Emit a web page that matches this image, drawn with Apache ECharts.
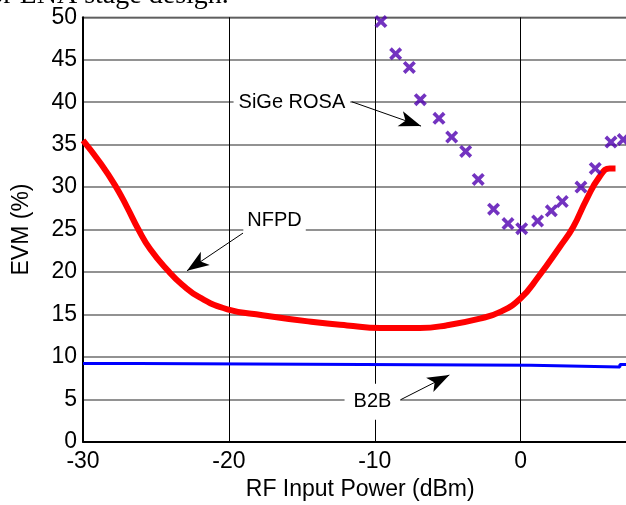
<!DOCTYPE html>
<html>
<head>
<meta charset="utf-8">
<script src="https://cdn.jsdelivr.net/npm/echarts@6/dist/echarts.min.js"></script>
<style>
html,body{margin:0;padding:0;background:#fff;}
#c{width:626px;height:505px;}
</style>
</head>
<body>
<div id="c"></div>
<script>
// X axis tick settings
var xMin = -30, xMax = 8, xInterval = 10;
var yMin = 0, yMax = 50, yInterval = 5;

// NFPD (red curve)
var nfpdX = [-30, -28.8, -27.8, -27.0, -26.2, -25.4, -24.2, -23.2, -22.0, -20.1, -17.7, -14.2, -11.9, -9.6, -6.9, -5.1, -2.8, -1.4, 0, 1.2, 2.7, 3.6, 4.5, 5.4, 6.1, 6.5];
var nfpdY = [35.5, 32.8, 30.2, 27.7, 25.0, 22.7, 20.2, 18.5, 17.0, 15.6, 14.9, 14.1, 13.7, 13.4, 13.4, 13.7, 14.5, 15.3, 16.9, 19.4, 23.0, 25.3, 28.5, 31.2, 32.2, 32.2];

// B2B (blue line)
var b2bX = [-30, -26.2, -26.2, 0.7, 0.7, 6.8, 6.8, 8];
var b2bY = [9.2, 9.2, 9.0, 9.0, 8.8, 8.8, 9.1, 9.1];

// SiGe ROSA (purple crosses)
var roseX = [-9.58, -8.57, -7.63, -6.88, -5.60, -4.73, -3.77, -2.91, -1.86, -0.87, 0.07, 1.16, 2.10, 2.85, 4.13, 5.11, 6.19, 7.03];
var roseY = [49.5, 45.7, 44.1, 40.3, 38.1, 35.9, 34.2, 30.9, 27.4, 25.7, 25.1, 26.0, 27.2, 28.3, 30.0, 32.2, 35.3, 35.6];

// Annotations: label text, label position, arrow start, arrow tip (data coords)
var annText = ['SiGe ROSA', 'NFPD', 'B2B'];
var annPos = [[-15.68, 40.0], [-16.87, 26.1], [-10.16, 4.71]];
var annFrom = [[-11.58, 40.05], [-19.03, 24.58], [-8.27, 4.91]];
var annTo = [[-6.83, 37.18], [-22.87, 20.14], [-4.89, 7.86]];
var annPad = [[3, 5], [3, 4], [8, 9]];

function zip(xs, ys) { return xs.map(function (x, i) { return [x, ys[i]]; }); }

var crossPath = 'path://M2,0 L5,3 L8,0 L10,2 L7,5 L10,8 L8,10 L5,7 L2,10 L0,8 L3,5 L0,2 Z';
var FONT = '"Liberation Sans", Arial, sans-serif';

var chart = echarts.init(document.getElementById('c'), null, {renderer: 'canvas'});
chart.setOption({
  animation: false,
  backgroundColor: '#fff',
  graphic: [{
    type: 'text', left: -20, top: -18,
    style: {text: 'for LNA stage design.', font: '28px "Liberation Serif", "Times New Roman", serif', fill: '#000'}
  }],
  grid: {left: 83, top: 17.3, height: 424.4, width: 554.4, show: true, borderColor: '#000', borderWidth: 1,
         backgroundColor: '#fff', containLabel: false, outerBoundsMode: 'none'},
  xAxis: {
    type: 'value', min: xMin, max: xMax, interval: xInterval,
    name: 'RF Input Power (dBm)', nameLocation: 'middle', nameGap: 36,
    nameTextStyle: {fontFamily: FONT, fontSize: 23, color: '#000'},
    axisLine: {show: true, onZero: false, lineStyle: {color: '#000', width: 2}},
    axisTick: {show: false},
    axisLabel: {fontFamily: FONT, fontSize: 23, color: '#000', margin: 8},
    splitLine: {show: true, lineStyle: {color: '#000', width: 1}}
  },
  yAxis: {
    type: 'value', min: yMin, max: yMax, interval: yInterval,
    name: 'EVM (%)', nameLocation: 'middle', nameGap: 50,
    nameTextStyle: {fontFamily: FONT, fontSize: 23, color: '#000'},
    axisLine: {show: true, onZero: false, lineStyle: {color: '#000', width: 2}},
    axisTick: {show: false},
    axisLabel: {fontFamily: FONT, fontSize: 23, color: '#000', margin: 6},
    splitLine: {show: true, lineStyle: {color: '#6e6e6e', width: 1.5}}
  },
  series: [
    {
      name: 'B2B', type: 'line', data: zip(b2bX, b2bY), showSymbol: false, symbol: 'none',
      lineStyle: {color: '#0000ff', width: 3}, z: 3,
      markLine: {
        silent: true, symbol: ['none', 'arrow'], symbolSize: [12, 22],
        label: {show: false},
        lineStyle: {color: '#000', width: 1, type: 'solid'},
        data: annFrom.map(function (f, i) { return [{coord: f}, {coord: annTo[i]}]; })
      },
      markPoint: {
        silent: true, symbol: 'rect', symbolSize: 1,
        itemStyle: {color: 'rgba(0,0,0,0)'},
        data: annPos.map(function (p, i) {
          return {coord: p, label: {
            show: true, position: 'inside', formatter: annText[i],
            fontFamily: FONT, fontSize: 20, color: '#000',
            backgroundColor: '#fff', padding: annPad[i]
          }};
        })
      }
    },
    {
      name: 'NFPD', type: 'line', data: zip(nfpdX, nfpdY), smooth: 0.5, showSymbol: false, symbol: 'none',
      lineStyle: {color: '#ff0000', width: 6}, z: 4
    },
    {
      name: 'SiGe ROSA', type: 'scatter', data: zip(roseX, roseY),
      symbol: crossPath, symbolSize: 13,
      itemStyle: {color: '#5000b0'}, z: 5
    }
  ]
});
</script>
</body>
</html>
